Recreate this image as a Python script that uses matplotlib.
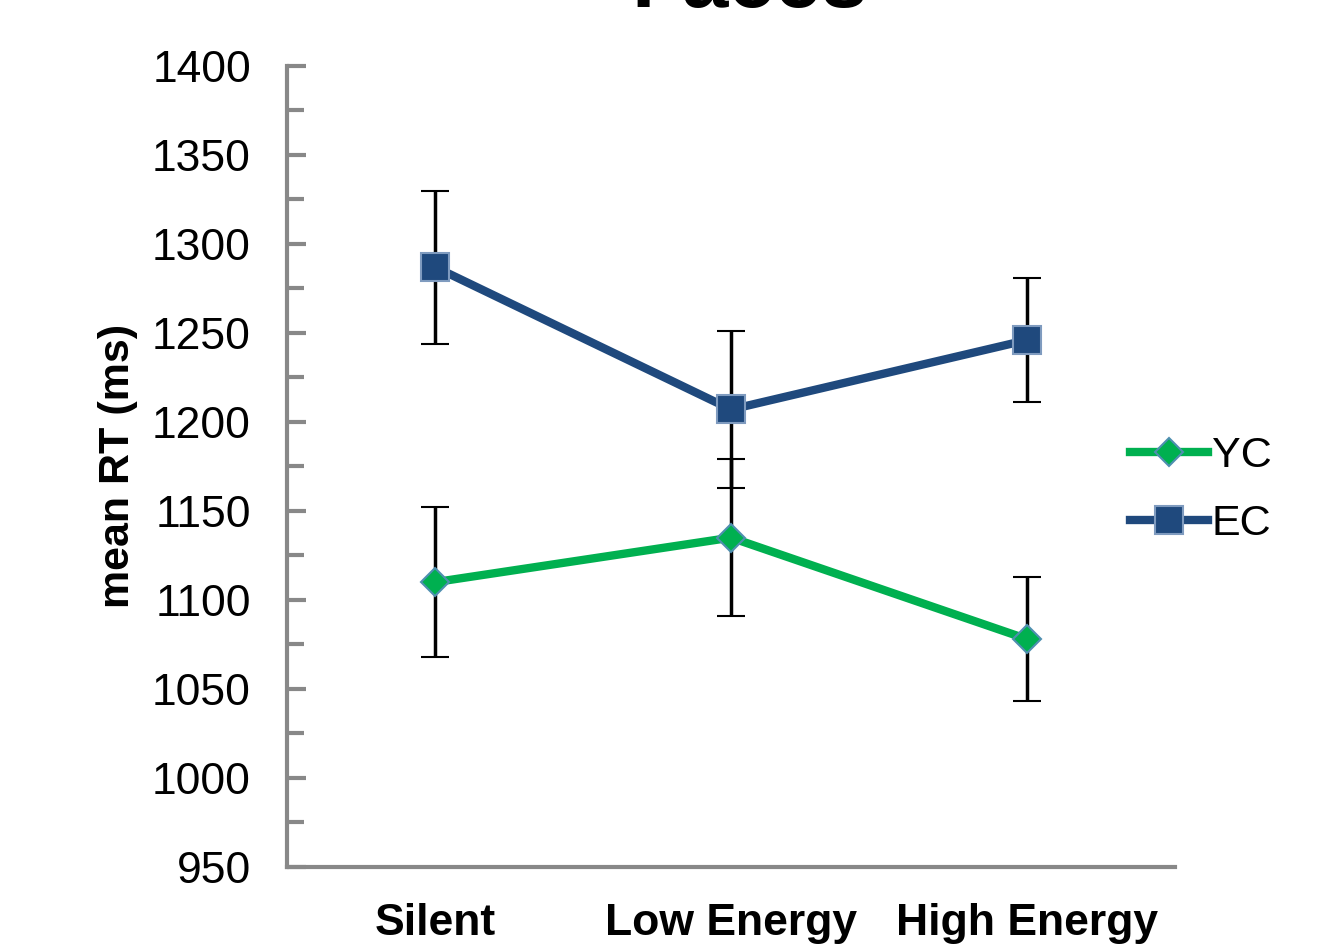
import matplotlib
matplotlib.use('Agg')
import matplotlib.pyplot as plt
from matplotlib.ticker import MultipleLocator

categories = ['Silent', 'Low Energy', 'High Energy']
yc_mean = [1110, 1135, 1078]
yc_err = [42, 44, 35]
ec_mean = [1287, 1207, 1246]
ec_err = [43, 44, 35]

plt.rcParams['font.family'] = ['Liberation Sans', 'DejaVu Sans']

fig = plt.figure(figsize=(13.32, 9.44), dpi=100)
ax = fig.add_axes([0.2155, 0.0816, 0.6667, 0.8486])

x = [0.5, 1.5, 2.5]
ax.errorbar(x, yc_mean, yerr=yc_err, color='#00B050', lw=6, marker='D', ms=14,
            mfc='#00B050', mec='#4F8FB0', mew=1.5, ecolor='black', elinewidth=2.5,
            capsize=10, capthick=2.5, label='YC', zorder=3)
ax.errorbar(x, ec_mean, yerr=ec_err, color='#1F497D', lw=6, marker='s', ms=20,
            mfc='#1F497D', mec='#7F9BBF', mew=1.5, ecolor='black', elinewidth=2.5,
            capsize=10, capthick=2.5, label='EC', zorder=3)

ax.set_xlim(0, 3)
ax.set_ylim(950, 1400)
ax.set_xticks(x)
ax.set_xticklabels(categories, fontsize=32, fontweight='bold')
ax.yaxis.set_major_locator(MultipleLocator(50))
ax.yaxis.set_minor_locator(MultipleLocator(25))
ax.tick_params(axis='y', which='major', direction='in', length=14, width=3,
               color='#888888', labelsize=32, pad=26)
ax.tick_params(axis='y', which='minor', direction='in', length=12, width=3,
               color='#888888')
ax.tick_params(axis='x', length=0, pad=26)
for s in ['top', 'right']:
    ax.spines[s].set_visible(False)
for s in ['left', 'bottom']:
    ax.spines[s].set_color('#888888')
    ax.spines[s].set_linewidth(3)

ax.set_ylabel('mean RT (ms)', fontsize=31, fontweight='bold', labelpad=10)
# title sits mostly above the canvas, as in the source image
fig.text(0.563, 0.975, 'Faces', fontsize=60, fontweight='bold', ha='center', va='bottom')

handles, labels = ax.get_legend_handles_labels()
handles = [h[0] for h in handles]
leg = ax.legend(handles, labels, loc='center left', bbox_to_anchor=(0.93, 0.47),
                frameon=False, fontsize=31, handlelength=1.8, handletextpad=0.1,
                labelspacing=0.65, borderaxespad=0)
fig.savefig('out.png', dpi=100)
